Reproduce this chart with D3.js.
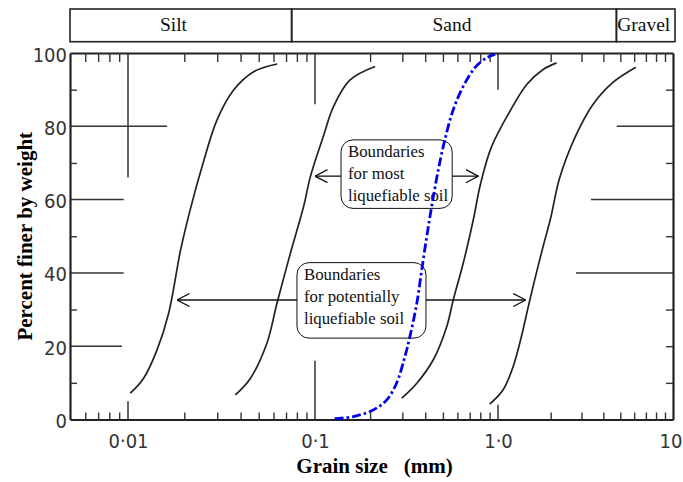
<!DOCTYPE html>
<html>
<head>
<meta charset="utf-8">
<script src="https://cdn.jsdelivr.net/npm/d3@7"></script>
<style>
  body { margin: 0; background: #fff; }
  svg { display: block; }
  .serif { font-family: "Liberation Serif", "Times New Roman", serif; }
  .num { font-family: "Liberation Sans Narrow", "DejaVu Sans Condensed", "Liberation Sans", sans-serif; }
</style>
</head>
<body>
<div id="wrapper"></div>
<script>
// soil classes along the top band
const zoneNames = ["Silt", "Sand", "Gravel"]
const zoneBreaks = [0.005, 0.075, 4.75, 10]
const zoneLabelAt = [0.0175, 0.56, 6.8]

// axis ticks
const xLabelTicks = [0.01, 0.1, 1, 10]
const xLabelText = ["0·01", "0·1", "1·0", "10"]
const xMinorTicks = [0.006, 0.007, 0.008, 0.009,
                     0.02, 0.03, 0.04, 0.05, 0.06, 0.07, 0.08, 0.09,
                     0.2, 0.3, 0.4, 0.5, 0.6, 0.7, 0.8, 0.9,
                     2, 3, 4, 5, 6, 7, 8, 9]
const yLabelTicks = [0, 20, 40, 60, 80, 100]
const yMinorLeft = [10, 30, 50, 70, 90]
const yMinorRight = [10, 20, 30, 50, 70, 90]

// broken grid lines of the original sheet: [x, y from, y to] and [y, x from, x to]
const gridVertical = [[0.01, 100, 66], [0.1, 100, 86], [1, 100, 90],
                      [0.01, 0, 5], [0.1, 0, 16], [1, 0, 4]]
const gridHorizontal = [[80, 0.005, 0.0162], [60, 0.005, 0.0095], [40, 0.005, 0.0095], [20, 0.005, 0.0093],
                        [80, 4.77, 10], [60, 3.4, 10], [40, 2.79, 10]]

// boundary curves  [grain size mm, percent finer]
const potentialFine = [[0.0103, 7.2], [0.0121, 11.2], [0.0143, 19.0], [0.0165, 29.0], [0.0191, 46.2],
                       [0.0215, 57.2], [0.0249, 69.0], [0.0299, 81.7], [0.0367, 89.9], [0.047, 94.9], [0.0627, 97.0]]
const mostFine = [[0.0375, 6.7], [0.0451, 11.2], [0.0553, 20.8], [0.0626, 31.7], [0.0738, 45.3],
                  [0.0869, 58.1], [0.0944, 66.2], [0.111, 77.2], [0.126, 85.3], [0.155, 92.6], [0.213, 96.3]]
const mostCoarse = [[0.298, 5.8], [0.36, 9.9], [0.443, 16.3], [0.525, 25.4], [0.57, 32.7], [0.646, 42.7],
                    [0.733, 54.5], [0.8, 64.0], [0.92, 74.3], [1.17, 84.1], [1.46, 91.4], [1.81, 95.5], [2.16, 97.3]]
const potentialCoarse = [[0.901, 4.2], [1.07, 8.1], [1.22, 14.4], [1.36, 22.6], [1.49, 30.8], [1.62, 38.1],
                         [1.81, 47.2], [2.0, 55.0], [2.25, 65.9], [2.8, 77.7], [3.48, 85.9], [4.52, 91.9], [6.13, 96.1]]
// tested sample (blue dash-dot)
const sample = [[0.128, 0.2], [0.162, 0.8], [0.208, 2.6], [0.246, 5.3], [0.279, 9.9], [0.31, 17.2],
                [0.33, 22.6], [0.36, 31.7], [0.383, 40.8], [0.408, 49.9], [0.434, 58.1], [0.472, 68.2],
                [0.513, 76.4], [0.57, 84.6], [0.646, 90.9], [0.748, 96.0], [0.867, 98.7], [0.964, 99.6]]

// annotation boxes: corners in data units, lines of text, arrow level and tips
const mostBox = { x0: 0.1387, x1: 0.562, y0: 76.3, y1: 57.6, lines: ["Boundaries", "for most", "liquefiable soil"],
                  arrowY: 66.4, tips: [0.1, 0.782] }
const potentialBox = { x0: 0.0801, x1: 0.404, y0: 42.8, y1: 22.2, lines: ["Boundaries", "for potentially", "liquefiable soil"],
                       arrowY: 32.6, tips: [0.0183, 1.44] }

function drawChart(){
    const width = 683, height = 482

    const svg = d3.select("#wrapper").append("svg")
                  .attr("width", width)
                  .attr("height", height)

    // the printed sheet is not evenly scaled, so each decade gets its own span
    const xScale = d3.scaleLog()
                     .domain([0.005, 0.01, 0.1, 1, 10])
                     .range([70, 128, 315, 498, 673])
    const yScale = d3.scaleLinear()
                     .domain([0, 100])
                     .range([419.5, 53])

    const ink = "#222"

    svg.append("defs").append("marker")
       .attr("id", "arrow")
       .attr("viewBox", "0 -7 13 14")
       .attr("refX", 12.5)
       .attr("refY", 0)
       .attr("markerUnits", "userSpaceOnUse")
       .attr("markerWidth", 13)
       .attr("markerHeight", 14)
       .attr("orient", "auto")
       .append("path")
       .attr("d", "M0,-6.5L12.5,0L0,6.5")
       .attr("fill", "none")
       .attr("stroke", "#111")
       .attr("stroke-width", 1.3)

    // top band with soil classes
    const band = svg.append("g")
    const bandTop = 9, bandBottom = 41.7
    band.selectAll("rect")
        .data(zoneNames)
        .join("rect")
        .attr("x", (d, i) => xScale(zoneBreaks[i]))
        .attr("y", bandTop)
        .attr("width", (d, i) => xScale(zoneBreaks[i + 1]) - xScale(zoneBreaks[i]) + (i == 2 ? 2 : 0))
        .attr("height", bandBottom - bandTop)
        .attr("fill", "none")
        .attr("stroke", ink)
        .attr("stroke-width", 1.6)
    band.selectAll("text")
        .data(zoneNames)
        .join("text")
        .attr("class", "serif")
        .attr("x", (d, i) => xScale(zoneLabelAt[i]))
        .attr("y", 30.5)
        .attr("text-anchor", "middle")
        .style("font-size", "19.5px")
        .attr("fill", "#111")
        .text(d => d)

    // broken grid lines
    const grid = svg.append("g").attr("stroke", "#333").attr("stroke-width", 1.5)
    grid.selectAll(".gv")
        .data(gridVertical)
        .join("line")
        .attr("class", "gv")
        .attr("x1", d => xScale(d[0]))
        .attr("x2", d => xScale(d[0]))
        .attr("y1", d => yScale(d[1]))
        .attr("y2", d => yScale(d[2]))
    grid.selectAll(".gh")
        .data(gridHorizontal)
        .join("line")
        .attr("class", "gh")
        .attr("y1", d => yScale(d[0]))
        .attr("y2", d => yScale(d[0]))
        .attr("x1", d => xScale(d[1]))
        .attr("x2", d => xScale(d[2]))

    // frame and inward ticks
    const bottomTicks = svg.append("g")
        .attr("transform", `translate(0,${yScale(0)})`)
        .call(d3.axisBottom(xScale).tickValues(xMinorTicks).tickSize(-7).tickSizeOuter(0).tickFormat(""))
    const topTicks = svg.append("g")
        .attr("transform", `translate(0,${yScale(100)})`)
        .call(d3.axisTop(xScale).tickValues(xMinorTicks).tickSize(-9).tickSizeOuter(0).tickFormat(""))
    const leftTicks = svg.append("g")
        .attr("transform", `translate(${xScale(0.005)},0)`)
        .call(d3.axisLeft(yScale).tickValues(yMinorLeft).tickSize(-7).tickSizeOuter(0).tickFormat(""))
    const rightTicks = svg.append("g")
        .attr("transform", `translate(${xScale(10)},0)`)
        .call(d3.axisRight(yScale).tickValues(yMinorRight).tickSize(-7).tickSizeOuter(0).tickFormat(""))

    ;[bottomTicks, topTicks, leftTicks, rightTicks].forEach(g => {
        g.select(".domain").attr("stroke", ink).attr("stroke-width", 2.2)
        g.selectAll(".tick line").attr("stroke", "#333").attr("stroke-width", 1.4)
    })

    // tick labels
    const xLabels = svg.append("g")
        .attr("transform", `translate(0,${yScale(0)})`)
        .call(d3.axisBottom(xScale).tickValues(xLabelTicks).tickSize(0).tickPadding(14)
                .tickFormat((d, i) => xLabelText[i]))
    const yLabels = svg.append("g")
        .attr("transform", `translate(${xScale(0.005)},0)`)
        .call(d3.axisLeft(yScale).tickValues(yLabelTicks).tickSize(0).tickPadding(3))
    ;[xLabels, yLabels].forEach(g => {
        g.select(".domain").remove()
        g.attr("font-family", null).attr("font-size", null)
        g.selectAll("text")
         .attr("class", "num")
         .attr("fill", "#333")
         .style("font-size", "20px")
    })
    yLabels.selectAll("text").attr("dy", "0.4em")
    // last label sits on the page edge
    xLabels.selectAll("text").filter(d => d == 10).attr("text-anchor", "end").attr("dx", 9)

    // axis titles
    svg.append("text")
       .attr("class", "serif")
       .attr("transform", `translate(31.5,${(yScale(0) + yScale(100)) / 2}) rotate(-90)`)
       .attr("text-anchor", "middle")
       .style("font-size", "21px")
       .style("font-weight", "bold")
       .attr("fill", "#000")
       .text("Percent finer by weight")
    svg.append("text")
       .attr("class", "serif")
       .attr("x", (xScale(0.005) + xScale(10)) / 2 + 3)
       .attr("y", 473)
       .attr("text-anchor", "middle")
       .style("font-size", "21px")
       .style("font-weight", "bold")
       .style("white-space", "pre")
       .attr("fill", "#000")
       .text("Grain size   (mm)")

    // boundary curves
    const lineGenerator = d3.line()
        .x(d => xScale(d[0]))
        .y(d => yScale(d[1]))
        .curve(d3.curveCatmullRom.alpha(0.5))

    svg.append("g")
       .selectAll("path")
       .data([potentialFine, mostFine, mostCoarse, potentialCoarse])
       .join("path")
       .attr("d", lineGenerator)
       .attr("fill", "none")
       .attr("stroke", ink)
       .attr("stroke-width", 1.7)

    // annotation boxes with arrows
    const notes = svg.append("g")
    ;[mostBox, potentialBox].forEach(b => {
        const left = xScale(b.x0), right = xScale(b.x1)
        const top = yScale(b.y0), bottom = yScale(b.y1)
        const ay = yScale(b.arrowY)
        notes.append("line")
             .attr("x1", left).attr("x2", xScale(b.tips[0]))
             .attr("y1", ay).attr("y2", ay)
             .attr("stroke", "#111").attr("stroke-width", 1.3)
             .attr("marker-end", "url(#arrow)")
        notes.append("line")
             .attr("x1", right).attr("x2", xScale(b.tips[1]))
             .attr("y1", ay).attr("y2", ay)
             .attr("stroke", "#111").attr("stroke-width", 1.3)
             .attr("marker-end", "url(#arrow)")
        notes.append("rect")
             .attr("x", left).attr("y", top)
             .attr("width", right - left).attr("height", bottom - top)
             .attr("rx", 12).attr("ry", 12)
             .attr("fill", "#fff")
             .attr("stroke", "#111")
             .attr("stroke-width", 1)
        notes.append("text")
             .attr("class", "serif")
             .style("font-size", "16.8px")
             .attr("fill", "#111")
             .selectAll("tspan")
             .data(b.lines)
             .join("tspan")
             .attr("x", left + 7)
             .attr("y", (d, i) => top + 17 + i * 22.3)
             .text(d => d)
    })

    // sample gradation
    svg.append("path")
       .datum(sample)
       .attr("d", lineGenerator)
       .attr("fill", "none")
       .attr("stroke", "#0000ee")
       .attr("stroke-width", 2.8)
       .attr("stroke-dasharray", "9,3,2.5,3")
}

drawChart()
</script>
</body>
</html>
